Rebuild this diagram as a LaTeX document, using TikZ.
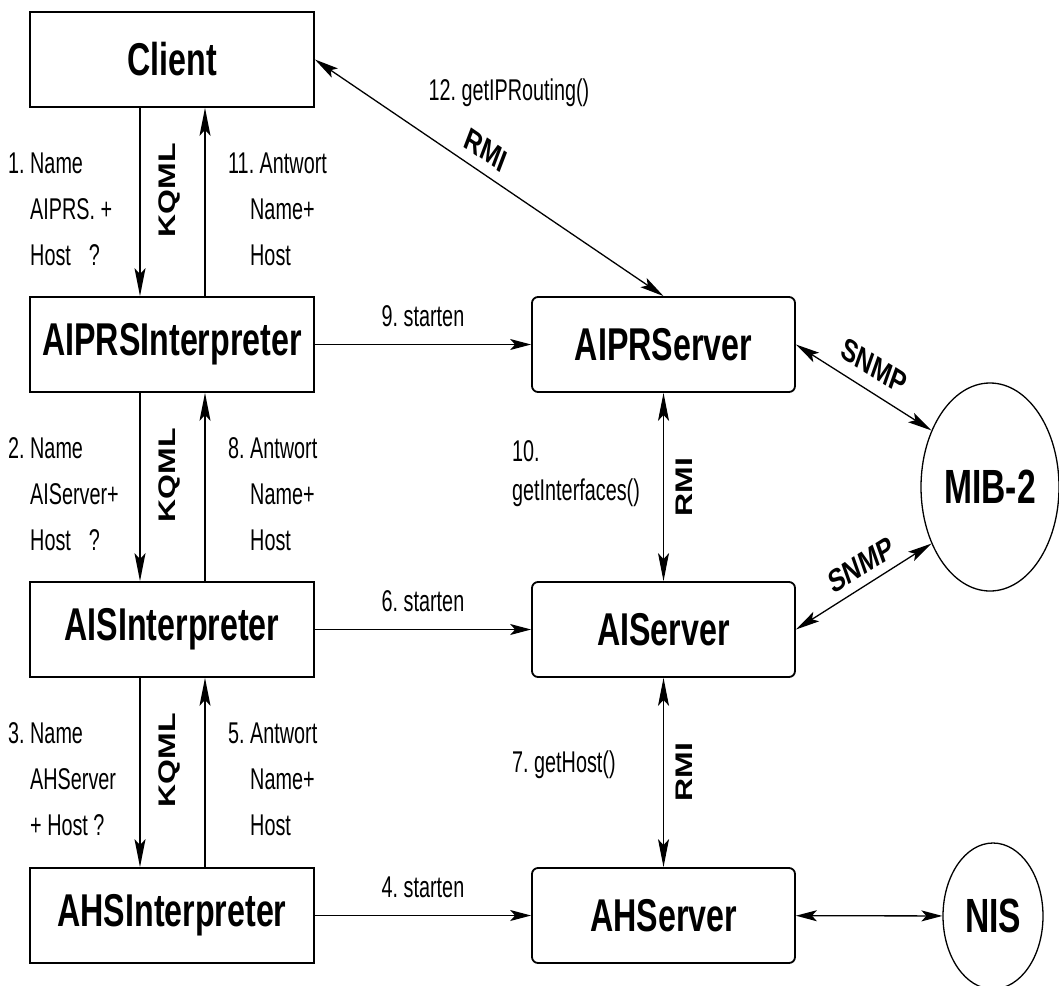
\documentclass[tikz,border=0pt]{standalone}
\usepackage{fontspec}
\setmainfont{Liberation Sans}
\newfontfamily\lblfont[FakeStretch=0.66]{Liberation Sans}
\newfontfamily\boxfont[FakeStretch=0.70]{Liberation Sans Bold}
\newfontfamily\protfont{Liberation Sans Bold}
\usetikzlibrary{shapes.geometric, arrows.meta}

% a block of three text lines whose base anchor is the first baseline
\newcommand\threelines[3]{\vtop{\baselineskip=46pt\lineskiplimit=-100pt\hbox{#1}\hbox{#2}\hbox{#3}}}

\tikzset{
  agent/.style={draw, line width=1.8pt, minimum width=284pt, minimum height=95pt,
    inner sep=0pt, font=\boxfont\fontsize{46}{50}\selectfont},
  server/.style={agent, minimum width=263pt, rounded corners=6pt},
  store/.style={draw, ellipse, line width=1.3pt, inner sep=0pt,
    font=\boxfont\fontsize{48}{52}\selectfont},
  conn/.style={line width=1.3pt},
  vtip/.style={-{Stealth[length=28pt,width=11pt,inset=6pt]}},
  vtips/.style={{Stealth[length=28pt,width=11pt,inset=6pt]}-{Stealth[length=28pt,width=11pt,inset=6pt]}},
  htip/.style={-{Stealth[length=21pt,width=11pt,inset=5pt]}},
  htips/.style={{Stealth[length=21pt,width=11pt,inset=5pt]}-{Stealth[length=21pt,width=11pt,inset=5pt]}},
  dtips/.style={{Stealth[length=24pt,width=11pt,inset=5pt]}-{Stealth[length=24pt,width=11pt,inset=5pt]}},
  lbl/.style={inner sep=0pt, anchor=base west, font=\lblfont\fontsize{30}{35}\selectfont},
  proto/.style={inner sep=0pt, xscale=0.75, font=\protfont\fontsize{32}{36}\selectfont},
}

\begin{document}
\begin{tikzpicture}[x=1pt, y=-1pt]
\useasboundingbox (0,0) rectangle (1059,985);

% agents on the left
\node[agent] (client) at (172,59.5) {Client};
\node[agent] (aiprs)  at (172,344.5) {AIPRSInterpreter};
\node[agent] (ais)    at (172,629.5) {AISInterpreter};
\node[agent] (ahs)    at (172,915.5) {AHSInterpreter};

% servers
\node[server] (aiprserver) at (663.5,344.5) {AIPRServer};
\node[server] (aiserver)   at (663.5,629.5) {AIServer};
\node[server] (ahserver)   at (663.5,915.5) {AHServer};

% data sources
\node[store, minimum width=138pt, minimum height=208pt] (mib) at (990,487) {MIB-2};
\node[store, minimum width=100pt, minimum height=146pt] (nis) at (993,916) {NIS};

% KQML requests and answers
\draw[conn, vtip] ([xshift=-32pt]client.south) -- ([xshift=-32pt]aiprs.north);
\draw[conn, vtip] ([xshift=33pt]aiprs.north) -- ([xshift=33pt]client.south);
\draw[conn, vtip] ([xshift=-32pt]aiprs.south) -- ([xshift=-32pt]ais.north);
\draw[conn, vtip] ([xshift=33pt]ais.north) -- ([xshift=33pt]aiprs.south);
\draw[conn, vtip] ([xshift=-32pt]ais.south) -- ([xshift=-32pt]ahs.north);
\draw[conn, vtip] ([xshift=33pt]ahs.north) -- ([xshift=33pt]ais.south);

\node[proto, rotate=90] (kqml1) at (169,190) {KQML};
\node[proto, rotate=90] (kqml2) at (169,475) {KQML};
\node[proto, rotate=90] (kqml3) at (169,760) {KQML};

\node[lbl] (ask1) at (8,173) {\threelines{1.~Name}{\phantom{1.~}AIPRS.~+}{\phantom{1.~}Host\hspace{18pt}?}};
\node[lbl] (ans1) at (228,173) {\threelines{11.~Antwort}{\hspace{22pt}Name+}{\hspace{22pt}Host}};
\node[lbl] (ask2) at (8,458) {\threelines{2.~Name}{\phantom{2.~}AIServer+}{\phantom{2.~}Host\hspace{18pt}?}};
\node[lbl] (ans2) at (228,458) {\threelines{8.~Antwort}{\phantom{8.~}Name+}{\phantom{8.~}Host}};
\node[lbl] (ask3) at (8,743) {\threelines{3.~Name}{\phantom{3.~}AHServer}{\phantom{3.~}+ Host ?}};
\node[lbl] (ans3) at (228,743) {\threelines{5.~Antwort}{\phantom{5.~}Name+}{\phantom{5.~}Host}};

% starting the servers
\draw[conn, htip] (aiprs) -- node[lbl, anchor=base, yshift=18pt] (st9) {9.~starten} (aiprserver);
\draw[conn, htip] (ais) -- node[lbl, anchor=base, yshift=18pt] (st6) {6.~starten} (aiserver);
\draw[conn, htip] (ahs) -- node[lbl, anchor=base, yshift=18pt] (st4) {4.~starten} (ahserver);

% RMI calls
\draw[conn, dtips] (client.east) -- (aiprserver.north);
\node[lbl, anchor=base] (call12) at (509,100) {12.~getIPRouting()};
\node[proto, rotate=-27] (rmi0) at (486,150) {RMI};

\draw[conn, vtips] (aiprserver) -- (aiserver);
\node[proto, rotate=90] (rmi1) at (684,487) {RMI};
\node[lbl] (call10) at (512,461) {\vtop{\baselineskip=39pt\lineskiplimit=-100pt\hbox{10.}\hbox{getInterfaces()}}};

\draw[conn, vtips] (aiserver) -- (ahserver);
\node[proto, rotate=90] (rmi2) at (684,772) {RMI};
\node[lbl] (call7) at (512,772) {7.~getHost()};

% SNMP and NIS access
\draw[conn, dtips] (aiprserver.east) -- (mib.136);
\node[proto, rotate=-25.3] (snmp1) at (874,366) {SNMP};
\draw[conn, dtips] (aiserver.east) -- (mib.224);
\node[proto, rotate=25.3] (snmp2) at (861,565) {SNMP};
\draw[conn, htips] (ahserver) -- (nis);
\end{tikzpicture}
\end{document}
